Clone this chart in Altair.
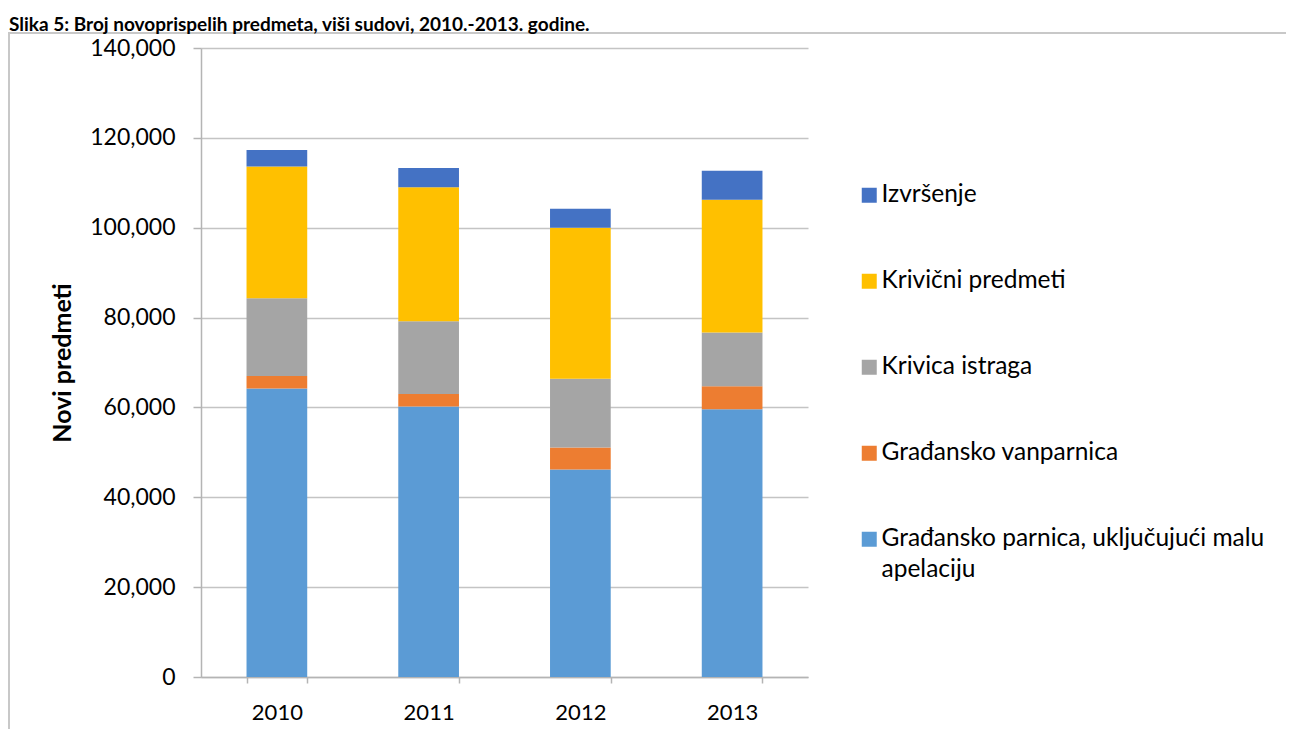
import altair as alt
import pandas as pd

years = ["2010", "2011", "2012", "2013"]
series_names = [
    "Građansko parnica, uključujući malu apelaciju",
    "Građansko vanparnica",
    "Krivica istraga",
    "\u00a0Krivični predmeti",
    "Izvršenje",
]
gradjansko_parnica = [64200, 60200, 46200, 59600]
gradjansko_vanparnica = [2800, 2800, 4900, 5100]
krivica_istraga = [17300, 16200, 15300, 12000]
krivicni_predmeti = [29300, 29800, 33600, 29500]
izvrsenje = [3700, 4300, 4200, 6500]
series_colors = ["#5B9BD5", "#ED7D31", "#A5A5A5", "#FFC000", "#4472C4"]
y_ticks = [0, 20000, 40000, 60000, 80000, 100000, 120000, 140000]

all_values = [gradjansko_parnica, gradjansko_vanparnica, krivica_istraga,
              krivicni_predmeti, izvrsenje]
rows = []
for rank, (name, vals) in enumerate(zip(series_names, all_values)):
    for yr, v in zip(years, vals):
        rows.append({"year": yr, "series": name, "value": v, "rank": rank})
df = pd.DataFrame(rows)

legend_order = series_names[::-1]
legend_colors = series_colors[::-1]

grid_col = "#c4c4c4"
axis_col = "#b4b4b4"

bars = alt.Chart(df).mark_bar().encode(
    x=alt.X("year:N", sort=years, title=None,
            scale=alt.Scale(paddingInner=0.6, paddingOuter=0.3),
            axis=alt.Axis(labelAngle=0, tickBand="extent", tickSize=6,
                          labelPadding=19, labelFontSize=22, labelColor="#000000",
                          labelFont="Lato",
                          domainColor=axis_col, tickColor=axis_col,
                          domainWidth=1.5, tickWidth=1.5, grid=False)),
    y=alt.Y("value:Q", stack="zero",
            scale=alt.Scale(domain=[0, 140000], nice=False),
            axis=alt.Axis(values=y_ticks, format=",d", tickSize=8, labelPadding=18,
                          labelFontSize=23, labelColor="#000000", labelFont="Lato",
                          title="Novi predmeti", titleFontSize=25, titleFont="Lato",
                          titleFontWeight="bold", titleColor="#000000",
                          titlePadding=14, gridColor=grid_col, gridWidth=1.5,
                          domainColor=axis_col, tickColor=axis_col,
                          domainWidth=1.5, tickWidth=1.5)),
    color=alt.Color("series:N",
                    scale=alt.Scale(domain=legend_order, range=legend_colors),
                    legend=alt.Legend(orient="none", legendX=656, legendY=135,
                                      title=None, symbolType="square",
                                      symbolSize=225, symbolStrokeWidth=0,
                                      symbolOpacity=1, labelFont="Lato",
                                      labelFontSize=24.5, labelColor="#000000",
                                      labelLimit=600, labelOffset=0,
                                      rowPadding=61,
                                      labelExpr="indexof(datum.label, 'parnica,') >= 0 ? ['Građansko parnica, uključujući malu', 'apelaciju'] : datum.label")),
    order=alt.Order("rank:Q", sort="ascending"),
)

frame = alt.Chart(pd.DataFrame({"f": [0]})).mark_rect(
    fillOpacity=0, stroke="#c8c8c8", strokeWidth=2
).encode(
    x=alt.value(-192), x2=alt.value(1300),
    y=alt.value(-15), y2=alt.value(900),
)

chart = alt.layer(frame, bars).properties(
    width=607,
    height=629,
    padding={"left": 193, "top": 40, "right": 478, "bottom": 52},
    autosize=alt.AutoSizeParams(type="none"),
    title=alt.TitleParams(
        text="Slika 5: Broj novoprispelih predmeta, viši sudovi, 2010.-2013. godine.",
        anchor="start", frame="group", dx=-192, dy=13, offset=10,
        fontSize=19, font="Lato", fontWeight="bold", color="#000000",
    ),
).configure(
    style={"guide-label": {"lineHeight": 31, "font": "Lato"},
           "guide-title": {"font": "Lato"}}
).configure_view(strokeWidth=0).configure_axis(
    labelFont="Lato", titleFont="Lato"
).configure_legend(labelFont="Lato")

chart.save("out.html", embed_options={"renderer": "svg", "actions": False})
